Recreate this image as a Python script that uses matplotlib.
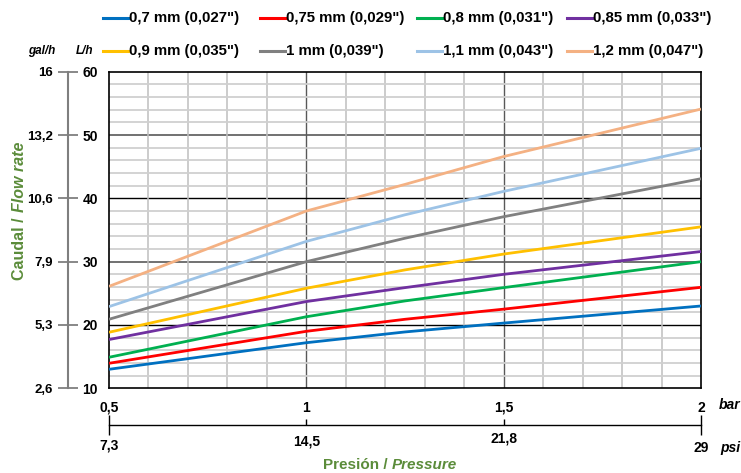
import matplotlib
matplotlib.use("Agg")
import matplotlib.pyplot as plt
from matplotlib.lines import Line2D
from matplotlib.ticker import MultipleLocator, FixedLocator, NullFormatter

plt.rcParams['font.family'] = ['Liberation Sans', 'DejaVu Sans']
plt.rcParams['font.weight'] = 'bold'

# data
pressure_bar = [0.5, 1.0, 1.25, 1.5, 2.0]
series_labels = ['0,7 mm (0,027")', '0,75 mm (0,029")', '0,8 mm (0,031")', '0,85 mm (0,033")',
                 '0,9 mm (0,035")', '1 mm (0,039")', '1,1 mm (0,043")', '1,2 mm (0,047")']
flow_07 = [13.0, 17.2, 18.9, 20.3, 23.0]
flow_075 = [13.95, 19.0, 20.9, 22.5, 25.95]
flow_08 = [14.9, 21.3, 23.8, 25.9, 30.0]
flow_085 = [17.7, 23.7, 25.9, 28.0, 31.6]
flow_09 = [18.85, 25.8, 28.7, 31.2, 35.5]
flow_10 = [20.9, 30.0, 33.7, 37.1, 43.1]
flow_11 = [22.9, 33.2, 37.4, 41.1, 47.9]
flow_12 = [26.1, 38.0, 42.2, 46.6, 54.1]
series_colors = ['#0070C0', '#FF0000', '#00B050', '#7030A0',
                 '#FFC000', '#808080', '#9DC3E6', '#F4B183']

bar_ticks = [0.5, 1.0, 1.5, 2.0]
bar_labels = ['0,5', '1', '1,5', '2']
psi_labels = ['7,3', '14,5', '21,8', '29']
lh_ticks = [10, 20, 30, 40, 50, 60]
gal_labels = ['2,6', '5,3', '7,9', '10,6', '13,2', '16']

W, H = 741, 473
green = '#5B8C3A'


def fx(px):
    return px / W


def fy(py):
    return 1 - py / H


fig = plt.figure(figsize=(W / 100, H / 100), dpi=100)
ax = fig.add_axes([fx(109), fy(388.3), (701 - 109) / W, (388.3 - 71.7) / H])

flows = [flow_07, flow_075, flow_08, flow_085, flow_09, flow_10, flow_11, flow_12]
handles = []
for ys, col, lab in zip(flows, series_colors, series_labels):
    ln, = ax.plot(pressure_bar, ys, color=col, lw=2.0, label=lab, zorder=3,
                  solid_capstyle='butt')
    handles.append(ln)

ax.set_xlim(0.5, 2.0)
ax.set_ylim(10, 60)

# grid
ax.xaxis.set_minor_locator(MultipleLocator(0.1))
ax.yaxis.set_minor_locator(MultipleLocator(2))
ax.grid(which='minor', axis='x', color='#BFBFBF', lw=1.1)
ax.grid(which='minor', axis='y', color='#D0D0D0', lw=1.3)
for v in [1.0, 1.5]:
    ax.axvline(v, color='#595959', lw=1.0, zorder=1.5)
for v in [20, 40]:
    ax.axhline(v, color='black', lw=1.0, zorder=1.5)
for v in [30, 50]:
    ax.axhline(v, color='#595959', lw=1.2, zorder=1.5)
for s in ax.spines.values():
    s.set_color('black')
    s.set_linewidth(1.2)

ax.set_xticks(bar_ticks)
ax.set_xticklabels(bar_labels)
ax.set_yticks(lh_ticks)
ax.set_yticklabels([str(v) for v in lh_ticks])
ax.tick_params(which='both', length=0)
ax.tick_params(axis='y', pad=8, labelsize=10)
ax.tick_params(axis='x', pad=9, labelsize=10)

# gal/h axis
gax = ax.secondary_yaxis(-0.0693, functions=(lambda x: x, lambda x: x))
gax.set_yticks(lh_ticks)
gax.set_yticklabels(gal_labels)
gax.spines['left'].set_color('#7F7F7F')
gax.spines['left'].set_linewidth(1.5)
gax.tick_params(axis='y', direction='inout', length=14, width=1.3, color='#7F7F7F',
                pad=4, labelsize=9.5)

# psi axis
pax = ax.secondary_xaxis(-0.116, functions=(lambda x: x, lambda x: x))
pax.xaxis.set_major_locator(FixedLocator([1.0, 1.5]))
pax.xaxis.set_minor_locator(FixedLocator([0.5, 2.0]))
pax.xaxis.set_major_formatter(NullFormatter())
pax.xaxis.set_minor_formatter(NullFormatter())
pax.spines['bottom'].set_color('black')
pax.spines['bottom'].set_linewidth(1.0)
pax.tick_params(which='major', direction='in', length=4, width=1.0, color='black')
pax.tick_params(which='minor', direction='inout', length=14, width=1.0, color='black')

trans = ax.get_xaxis_transform()
psi_y = [445, 441.5, 438.5, 448]
for x, lab, py in zip(bar_ticks, psi_labels, psi_y):
    ax.text(x, 1 - (py - 71.7) / (388.3 - 71.7), lab, transform=trans,
            ha='center', va='center', fontsize=10, fontweight='bold')
fig.text(fx(730), fy(405), 'bar', ha='center', va='center', fontsize=10, style='italic')
fig.text(fx(730), fy(448), 'psi', ha='center', va='center', fontsize=10, style='italic')

# axis titles
fig.text(fx(388), fy(465), 'Presión /', ha='right', va='center', fontsize=11, color=green)
fig.text(fx(392), fy(465), 'Pressure', ha='left', va='center', fontsize=11, color=green,
         style='italic')
fig.text(fx(19), fy(217), 'Caudal /', ha='center', va='top', fontsize=11.5, color=green,
         rotation=90)
fig.text(fx(19), fy(212), 'Flow rate', ha='center', va='bottom', fontsize=11.5, color=green,
         rotation=90, style='italic')

fig.text(fx(42), fy(51), 'gal/h', ha='center', va='center', fontsize=8.5, style='italic')
fig.text(fx(85), fy(51), 'L/h', ha='center', va='center', fontsize=8.5, style='italic')

# manual legend
row_y = [18, 51]
col_x = [103, 260, 417, 567]
for i, h in enumerate(handles):
    r, c = divmod(i, 4)
    x0 = col_x[c]
    y0 = row_y[r]
    fig.add_artist(Line2D([fx(x0), fx(x0 + 25)], [fy(y0), fy(y0)], color=h.get_color(),
                          lw=2.2, transform=fig.transFigure))
    fig.text(fx(x0 + 26), fy(y0), h.get_label(), ha='left', va='center', fontsize=10.8)

fig.savefig('out.png', dpi=100)
